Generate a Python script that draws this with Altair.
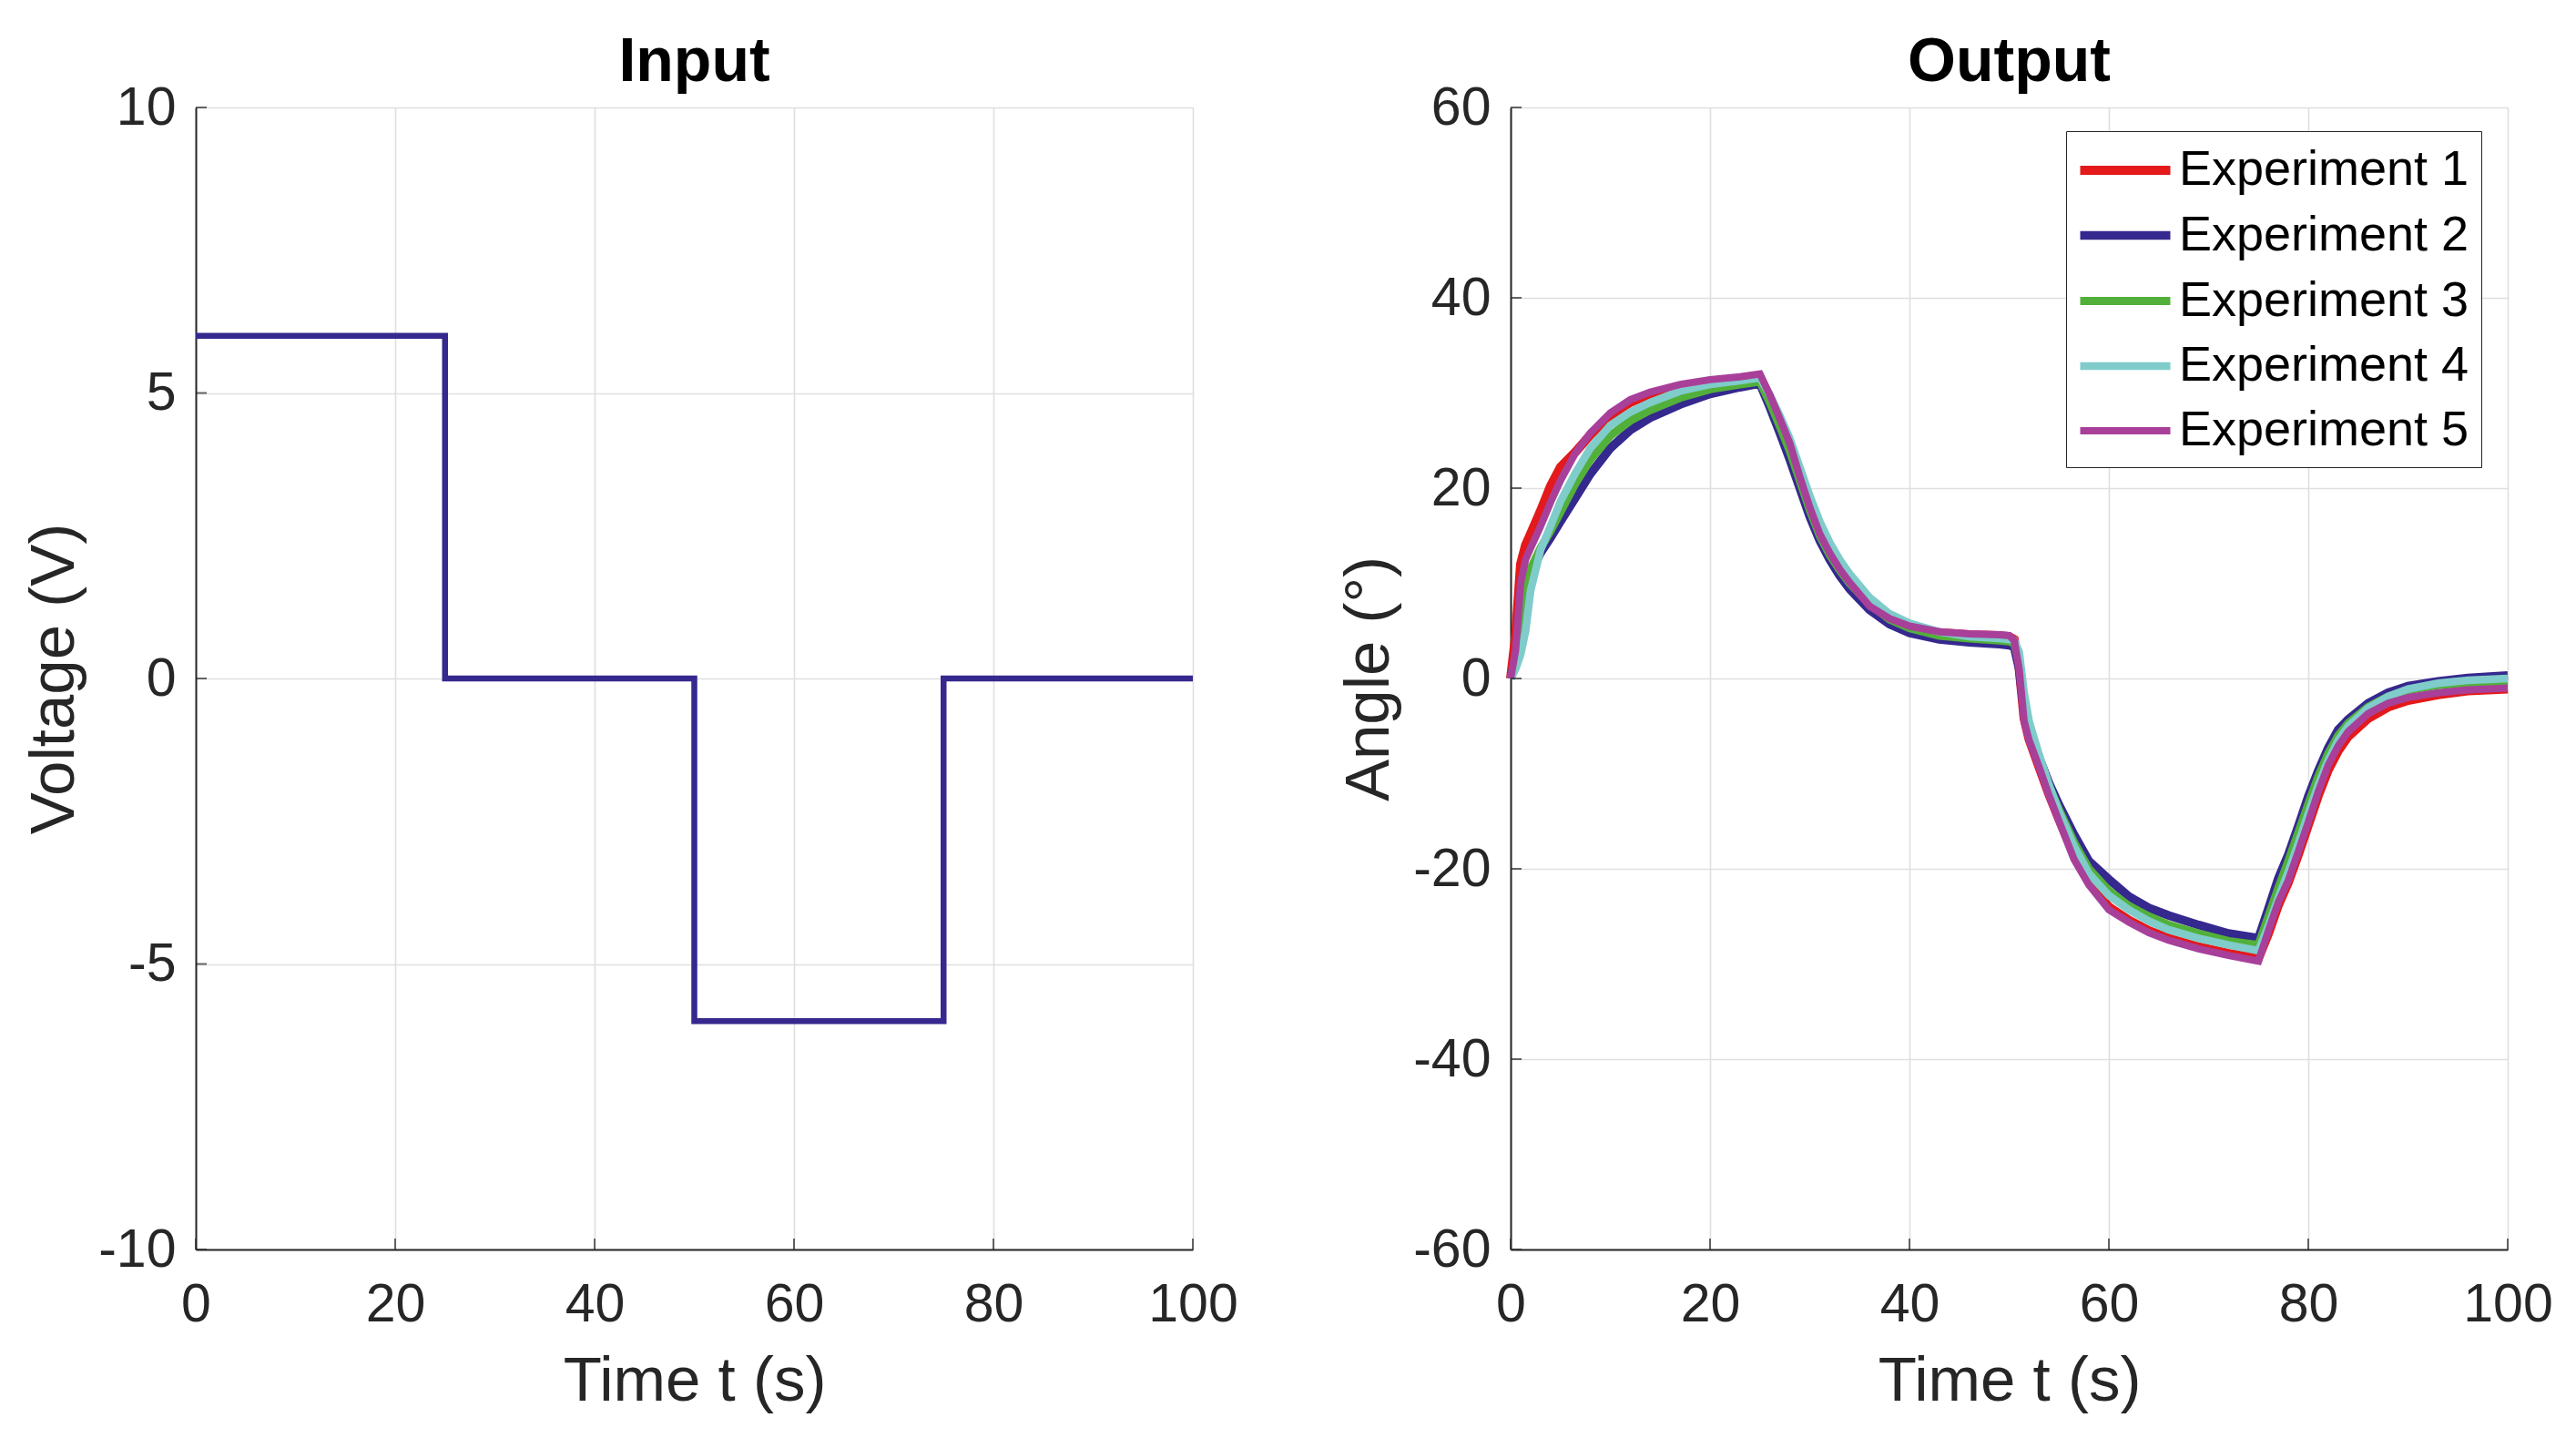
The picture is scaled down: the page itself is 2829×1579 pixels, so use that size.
import altair as alt
import pandas as pd

# ---------------- data ----------------
time = [0, 0.5, 1, 1.5, 2, 3, 4, 5, 6.5, 8, 10, 12, 14, 17, 20, 23, 25, 26, 27, 28,
        29, 30, 31, 32, 33, 34, 36, 38, 40, 43, 46, 49, 50, 50.5, 51, 51.5, 52, 53,
        54, 55, 56.5, 58, 60, 62, 64, 66, 69, 72, 75, 76, 77, 78, 79, 80, 81, 82,
        83, 84, 86, 88, 90, 93, 96, 100]

exp1 = [0, 4.5, 12, 14, 15.2, 17.6, 20.2, 22.2, 23.8, 25.6, 27.6, 29.0, 29.9, 30.7, 31.2, 31.5, 31.7, 29.4, 26.9, 24.4,
        21.2, 18, 15.3, 13.2, 11.5, 10.1, 7.7, 6.2, 5.4, 4.8, 4.6, 4.5, 4.4, 4.1, 1.2, -4.2, -6.4, -9.3,
        -12.2, -14.8, -18.5, -21.4, -24, -25.4, -26.5, -27.3, -28.2, -28.9, -29.4, -26.8, -23.8, -21.4, -18.5, -15.4, -12.3, -9.6,
        -7.6, -6.1, -4.2, -3, -2.3, -1.7, -1.3, -1.1]

exp2 = [0, 2, 6.5, 9.5, 11, 13.2, 14.8, 16.5, 19, 21.5, 24.2, 26.1, 27.4, 28.8, 29.9, 30.6, 31, 28.5, 25.8, 23,
        20, 17, 14.5, 12.5, 10.8, 9.4, 7.2, 5.7, 4.8, 4.1, 3.8, 3.6, 3.5, 3.3, 1, -3.5, -5.5, -8.3,
        -11, -13.3, -16.4, -19.2, -21.1, -22.9, -24.1, -24.9, -25.9, -26.8, -27.3, -24.2, -21, -18.5, -15.5, -12.4, -9.7, -7.3,
        -5.4, -4.3, -2.6, -1.5, -0.8, -0.3, 0.05, 0.3]

exp3 = [0, 2, 6, 9.5, 11.5, 13.7, 15.5, 17.5, 20.5, 23, 25.5, 27.1, 28.2, 29.5, 30.4, 30.9, 31.2, 29, 26.5, 23.9,
        20.8, 17.7, 15, 13, 11.4, 10, 7.8, 6.2, 5.3, 4.5, 4.2, 4.0, 3.9, 3.7, 1.8, -2.5, -5, -8.3,
        -11.3, -13.8, -17.2, -20, -22.3, -23.9, -25, -25.9, -26.8, -27.6, -28, -25, -22, -19.2, -16.2, -13.2, -10.3, -7.9,
        -6, -4.7, -3, -1.9, -1.2, -0.7, -0.45, -0.3]

exp4 = [0, 1, 2.5, 5, 9.2, 13.5, 16, 18.6, 21.6, 24.2, 26.6, 28, 29, 30.2, 30.9, 31.3, 31.6, 29.8, 27.6, 25.2,
        22.2, 19.2, 16.5, 14.3, 12.5, 11, 8.5, 6.8, 5.8, 4.9, 4.4, 4.2, 4.1, 4.0, 2.8, -1.5, -4.5, -8,
        -11.2, -14, -17.6, -20.5, -22.8, -24.3, -25.5, -26.4, -27.3, -28, -28.6, -26, -23, -20.3, -17.3, -14.2, -11.2, -8.6,
        -6.5, -5, -3.1, -1.9, -1.1, -0.5, -0.2, 0]

exp5 = [0, 3, 10, 12.5, 13.7, 16, 18.5, 20.8, 23.7, 25.8, 27.9, 29.3, 30.1, 30.9, 31.4, 31.7, 32, 29.8, 27.3, 24.7,
        21.2, 18, 15.2, 13.2, 11.5, 10.1, 7.6, 6.3, 5.5, 4.9, 4.7, 4.6, 4.5, 4.0, 1.0, -4.5, -6.5, -9.3,
        -12.3, -15, -19, -21.7, -24.3, -25.6, -26.7, -27.5, -28.4, -29.1, -29.7, -26.5, -23.5, -21.2, -18.2, -15.1, -11.9, -9.1,
        -7.1, -5.6, -3.7, -2.6, -2.0, -1.5, -1.2, -1.0]

input_t = [0, 25, 25, 50, 50, 75, 75, 100]
input_v = [6, 6, 0, 0, -6, -6, 0, 0]

names = ["Experiment 1", "Experiment 2", "Experiment 3", "Experiment 4", "Experiment 5"]
colors = ["#e4191b", "#35288e", "#52b03a", "#7fcccb", "#a8409a"]
widths = [10, 8, 9, 11, 13]

x_ticks = [0, 20, 40, 60, 80, 100]
in_y_ticks = [-10, -5, 0, 5, 10]
out_y_ticks = [-60, -40, -20, 0, 20, 40, 60]

# ---------------- tables ----------------
series = [exp1, exp2, exp3, exp4, exp5]
rows = []
for n, s in zip(names, series):
    for i, (t, v) in enumerate(zip(time, s)):
        rows.append({"t": t, "angle": v, "exp": n, "i": i})
out_df = pd.DataFrame(rows)
in_df = pd.DataFrame({"t": input_t, "v": input_v, "i": list(range(len(input_t)))})

FONT = "Liberation Sans"
AX = "#262626"
W, H = 1095, 1254


def axis(values, lab_pad, title_pad):
    return alt.Axis(values=values, grid=True, gridColor="#dfdfdf", gridWidth=1.6,
                    domainColor=AX, domainWidth=2, ticks=False, tickSize=0,
                    labelFont=FONT, labelFontSize=59, labelColor=AX, labelPadding=lab_pad,
                    labelExpr="'' + datum.value",
                    titleFont=FONT, titleFontSize=69, titleColor=AX, titleFontWeight="normal",
                    titlePadding=title_pad, labelFlush=False, labelOverlap=False)


def inward_ticks(xmin, ymin, yvals):
    xt = pd.DataFrame({"x": x_ticks, "y": [ymin] * len(x_ticks)})
    yt = pd.DataFrame({"x": [xmin] * len(yvals), "y": yvals})
    a = alt.Chart(xt).mark_tick(orient="vertical", size=12, yOffset=-6, thickness=2, color=AX).encode(
        x=alt.X("x:Q"), y=alt.Y("y:Q"))
    b = alt.Chart(yt).mark_tick(orient="horizontal", size=12, xOffset=6, thickness=2, color=AX).encode(
        x=alt.X("x:Q"), y=alt.Y("y:Q"))
    return a + b


title_style = dict(font=FONT, fontSize=68, fontWeight="bold", color="black",
                   anchor="middle", baseline="bottom", offset=-82)

xs = alt.Scale(domain=[0, 100], nice=False, zero=False)

left = alt.layer(
    alt.Chart(in_df).mark_line(color="#35288e", strokeWidth=6.5).encode(
        x=alt.X("t:Q", scale=xs, axis=axis(x_ticks, 31, 20), title="Time t (s)"),
        y=alt.Y("v:Q", scale=alt.Scale(domain=[-10, 10], nice=False, zero=False),
                axis=axis(in_y_ticks, 22, 13), title="Voltage (V)"),
        order="i:Q"),
    inward_ticks(0, -10, in_y_ticks),
).properties(width=W, height=H, title=alt.TitleParams("Input", **title_style))

right = alt.layer(
    alt.Chart(out_df).mark_line().encode(
        x=alt.X("t:Q", scale=xs, axis=axis(x_ticks, 31, 20), title="Time t (s)"),
        y=alt.Y("angle:Q", scale=alt.Scale(domain=[-60, 60], nice=False, zero=False),
                axis=axis(out_y_ticks, 22, 13), title="Angle (°)"),
        color=alt.Color("exp:N", scale=alt.Scale(domain=names, range=colors),
                        legend=alt.Legend(orient="none", legendX=2054, legendY=26, title=None,
                                          symbolType="M-2,0H2", symbolSize=2450, symbolStrokeWidth=9,
                                          symbolOffset=22, labelOffset=29, labelLimit=1000,
                                          labelFont=FONT, labelFontSize=54, labelColor="black",
                                          rowPadding=15, padding=13,
                                          strokeColor=AX, fillColor="white")),
        strokeWidth=alt.StrokeWidth("exp:N", scale=alt.Scale(domain=names, range=widths), legend=None),
        order="i:Q"),
    inward_ticks(0, -60, out_y_ticks),
).properties(width=W, height=H, title=alt.TitleParams("Output", **title_style))

chart = alt.hconcat(left, right, spacing=109).properties(
    padding={"left": 17, "top": 26, "right": 0, "bottom": 0}
).configure_view(stroke=None).configure(background="white")

chart.save("out.html", embed_options={"renderer": "svg", "actions": False})
